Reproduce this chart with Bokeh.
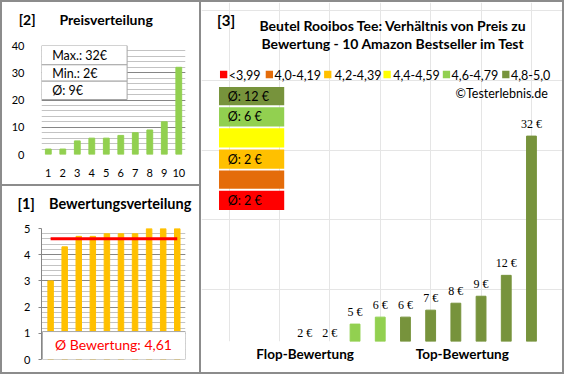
from bokeh.plotting import figure
from bokeh.models import (Range1d, Label, LabelSet, ColumnDataSource, FixedTicker,
                          SingleIntervalTicker, LinearAxis, Spacer)
from bokeh.layouts import row, column
from bokeh.embed import file_html
from bokeh.resources import INLINE

# ---------------- data ----------------
products = [1, 2, 3, 4, 5, 6, 7, 8, 9, 10]
prices = [2, 2, 5, 6, 6, 7, 8, 9, 12, 32]
ratings = [3.0, 4.3, 4.7, 4.7, 4.8, 4.8, 4.8, 5.0, 5.0, 5.0]
class_labels = ["<3,99", "4,0-4,19", "4,2-4,39", "4,4-4,59", "4,6-4,79", "4,8-5,0"]
class_lower = [4.0, 4.2, 4.4, 4.6, 4.8]
class_colors = ["#ff0000", "#e46c0a", "#ffc000", "#ffff00", "#92d050", "#77933c"]
price_bar_color = "#92d050"
rating_bar_color = "#ffc000"
title_price = "Preisverteilung"
title_rating = "Bewertungsverteilung"
title_main = ["Beutel Rooibos Tee: Verhältnis von Preis zu",
              "Bewertung - 10 Amazon Bestseller im Test"]
bottom_labels = ["Flop-Bewertung", "Top-Bewertung"]

FONT = "Lato"
BORDER = "#8c8c8c"
MAJOR = "#868686"
MINOR = "#c3c3c3"
BOXLINE = "#a6a6a6"
NB = "\u00a0"


def rating_class(r):
    return sum(1 for b in class_lower if r >= b - 1e-9)


def panel(ref_box, size, ref_frame, xcal, ycal, **kw):
    x0, y0, x1, y1 = ref_box
    w, h = size
    kx = w / (x1 - x0)
    ky = h / (y1 - y0)
    rl, rt, rr, rb = ref_frame
    fl = round((rl - x0) * kx)
    fr = round((rr - x0) * kx)
    ft = round((rt - y0) * ky)
    fb = round((rb - y0) * ky)

    def dx(rx):
        return xcal[1] + (rx - xcal[0]) / xcal[2]

    def dy(ry):
        return ycal[1] + (ycal[0] - ry) / ycal[2]

    p = figure(width=w, height=h, x_range=Range1d(dx(rl), dx(rr)),
               y_range=Range1d(dy(rb), dy(rt)), title=None,
               toolbar_location=None, output_backend="svg",
               min_border_left=fl, min_border_right=w - fr,
               min_border_top=ft, min_border_bottom=h - fb, **kw)
    p.outline_line_color = None
    p.background_fill_color = "white"
    p.border_fill_color = "white"
    p.styles = {"background-color": "white"}
    return p, dx, dy


def label(p, x, y, text, size, bold=False, color="black", align="left"):
    p.add_layout(Label(x=x, y=y, text=text, text_font=FONT,
                       text_font_size=f"{size}px",
                       text_font_style="bold" if bold else "normal",
                       text_color=color, text_align=align,
                       text_baseline="middle"))


def style_axis(ax, size="11px", bold=False):
    ax.major_label_text_font = FONT
    ax.major_label_text_font_size = size
    ax.major_label_text_font_style = "bold" if bold else "normal"
    ax.major_label_text_color = "black"
    ax.minor_tick_line_color = None


def text_axis(p, place, ticks, texts, size, standoff):
    ax = LinearAxis(ticker=FixedTicker(ticks=ticks),
                    major_label_overrides={t: s for t, s in zip(ticks, texts)})
    style_axis(ax, size, bold=True)
    ax.axis_line_color = None
    ax.major_tick_line_color = None
    ax.major_tick_out = 0
    ax.major_label_standoff = standoff
    p.add_layout(ax, place)


# ---------------- panel [2] Preisverteilung ----------------
p2, dx2, dy2 = panel((2, 2, 204, 191), (197, 182), (42, 47, 190, 160),
                     (49, 1, 14.9), (160, 0, 2.825))
p2.vbar(x=products, top=prices, width=0.4, color=price_bar_color)
style_axis(p2.xaxis[0])
style_axis(p2.yaxis[0])
p2.xaxis.ticker = FixedTicker(ticks=products)
p2.xaxis.axis_line_color = None
p2.xaxis.major_tick_line_color = None
p2.xaxis.major_label_standoff = 8
p2.yaxis.ticker = SingleIntervalTicker(interval=10, num_minor_ticks=5)
p2.yaxis.axis_line_color = None
p2.yaxis.major_tick_line_color = None
p2.yaxis.major_label_standoff = 11
p2.xgrid.grid_line_color = None
p2.ygrid.grid_line_color = MAJOR
p2.ygrid.minor_grid_line_color = MINOR

stats = [f"Max.: {max(prices)}€", f"Min.: {min(prices)}€",
         f"Ø: {int(sum(prices) / len(prices) + 0.5)}€"]
rows_ref = [(47, 67), (67, 84), (84, 103)]
p2.quad(left=[dx2(42)] * 3, right=[dx2(130)] * 3,
        top=[dy2(a) for a, b in rows_ref], bottom=[dy2(b) for a, b in rows_ref],
        fill_color="white", line_color=BOXLINE, line_width=1)
for (a, b), t in zip(rows_ref, stats):
    label(p2, dx2(53), dy2((a + b) / 2 + 0.5), t, 12.5)
text_axis(p2, "above", [dx2(87.5)], ["[2]" + NB * 7 + title_price], "14px", 18)

# ---------------- panel [1] Bewertungsverteilung ----------------
p1, dx1, dy1 = panel((2, 193, 204, 387), (197, 186), (33, 237, 191, 373),
                     (43, 1, 15.44), (373, 0, 27.2), x_axis_location=None)
p1.vbar(x=products, top=ratings, width=0.39, color=rating_bar_color)
style_axis(p1.yaxis[0])
p1.yaxis.ticker = SingleIntervalTicker(interval=1, num_minor_ticks=5)
p1.yaxis.axis_line_color = MAJOR
p1.yaxis.major_tick_line_color = MAJOR
p1.yaxis.major_tick_out = 3
p1.yaxis.major_tick_in = 0
p1.yaxis.major_label_standoff = 7
p1.xgrid.grid_line_color = None
p1.ygrid.grid_line_color = MAJOR
p1.ygrid.minor_grid_line_color = MINOR
avg_rating = sum(ratings) / len(ratings)
p1.line(x=[products[0], products[-1]], y=[avg_rating, avg_rating],
        line_color="#ff0000", line_width=3)
p1.quad(left=[dx1(34)], right=[dx1(191)], top=[dy1(344)], bottom=[dy1(373)],
        fill_color="white", line_color=BOXLINE)
label(p1, dx1(112), dy1(357), "Ø Bewertung: " + f"{avg_rating:.2f}".replace(".", ","),
      14, color="#ff0000", align="center")
text_axis(p1, "above", [dx1(102)], ["[1]" + NB * 4 + title_rating], "14.5px", 17)

# ---------------- panel [3] Preis / Bewertung ----------------
p3, dx3, dy3 = panel((206, 2, 577, 387), (361, 370), (206, 2, 577, 355),
                     (312, 1, 25.9), (355, 2.5, 7.25),
                     x_axis_location=None, y_axis_location=None)
axis_min = p3.y_range.start
bar_colors = [class_colors[rating_class(r)] for r in ratings]
bar_alpha = [1.0 if v > axis_min else 0.0 for v in prices]
src = ColumnDataSource(dict(x=products, top=prices, color=bar_colors, alpha=bar_alpha,
                            txt=[f"{v} €" for v in prices]))
p3.vbar(x="x", top="top", bottom=0, width=0.39, color="color", alpha="alpha",
        source=src)
p3.add_layout(LabelSet(x="x", y="top", text="txt", source=src, y_offset=12,
                       text_font=FONT, text_font_size="12px", text_align="center",
                       text_baseline="middle", text_color="black"))

label(p3, dx3(222), dy3(20), "[3]", 15, bold=True)
label(p3, dx3(403), dy3(26), title_main[0], 14, bold=True, align="center")
label(p3, dx3(403), dy3(45), title_main[1], 14, bold=True, align="center")

# legend row
sq_left = [225, 272, 332, 393, 454, 515]
txt_left = [234, 281, 343, 403, 463, 524]
p3.quad(left=[dx3(a) for a in sq_left], right=[dx3(a + 7.5) for a in sq_left],
        top=[dy3(73)] * 6, bottom=[dy3(81)] * 6, color=class_colors, line_width=0)
for a, t in zip(txt_left, class_labels):
    label(p3, dx3(a), dy3(77.5), t, 12.5)
label(p3, dx3(562), dy3(97), "©Testerlebnis.de", 12.5, align="right")

# class boxes with average price per class
box_rows = [(90, 109), (111, 131), (133, 153), (155, 175), (177, 196), (198, 218)]
order = [5, 4, 3, 2, 1, 0]
p3.quad(left=[dx3(224)] * 6, right=[dx3(291)] * 6,
        top=[dy3(a) for a, b in box_rows], bottom=[dy3(b) for a, b in box_rows],
        color=[class_colors[c] for c in order], line_width=0)
for (a, b), c in zip(box_rows, order):
    vals = [pr for pr, r in zip(prices, ratings) if rating_class(r) == c]
    if vals:
        avg = int(sum(vals) / len(vals) + 0.5)
        label(p3, dx3(233), dy3((a + b) / 2), f"Ø: {avg} €", 12.5)

text_axis(p3, "below", [dx3(312.5), dx3(474)], bottom_labels, "13.5px", 4)


def bar(w, h):
    return Spacer(width=w, height=h, styles={"background-color": BORDER})


left_col = column(p2, bar(197, 2), p1, spacing=0)
middle = row(bar(2, 370), left_col, bar(2, 370), p3, bar(2, 370), spacing=0)
layout = column(bar(564, 2), middle, bar(564, 2), spacing=0)

open("out.html", "w").write(file_html(layout, INLINE))
